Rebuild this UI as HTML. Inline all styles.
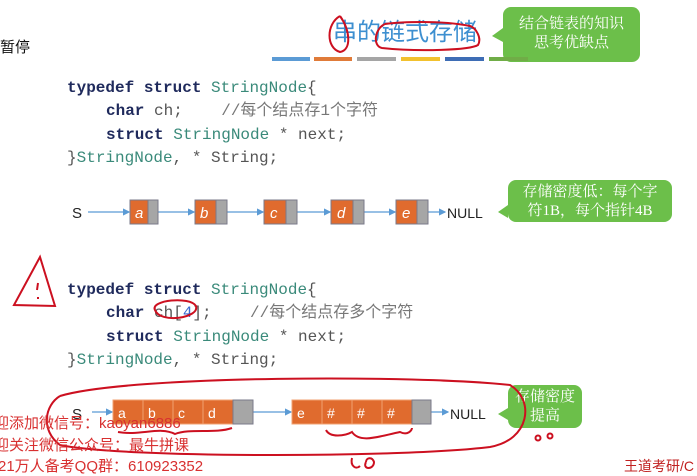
<!DOCTYPE html>
<html><head><meta charset="utf-8"><style>
body{margin:0;width:697px;height:472px;background:#fff;position:relative;overflow:hidden;font-family:"Liberation Sans","Noto Sans CJK SC",sans-serif}
.a{position:absolute;white-space:pre}
.code{font-family:"Liberation Mono","Noto Sans CJK SC",monospace;font-size:16px;line-height:20px;height:20px;color:#555}
.kw{color:#1f2a5c;font-weight:bold}
.ty{color:#3a8a7a}
.cm{color:#777}
.bub{position:absolute;background:#6cbf4a;color:#fff;border-radius:8px;text-align:center;font-family:"Liberation Serif","Noto Serif CJK SC",serif;font-size:15px;line-height:19px}
.wm{color:#d83030;font-size:15px;line-height:18px}
</style></head><body>
<div class="a" style="left:0;top:36px;font-size:15px;color:#111">暂停</div>
<div class="a" style="left:333px;top:18px;font-size:24px;line-height:30px;color:#3d8fd0">串的链式存储</div>
<div class="bub" style="left:503px;top:7px;width:137px;height:55px;padding-top:8px;box-sizing:border-box">结合链表的知识<br>思考优缺点</div>
<div class="bub" style="left:508px;top:180px;width:164px;height:42px;padding-top:3px;box-sizing:border-box">存储密度低：每个字<br>符1B，每个指针4B</div>
<div class="bub" style="left:508px;top:385px;width:74px;height:43px;padding-top:3px;box-sizing:border-box">存储密度<br>提高</div>
<div class="a code" style="left:67px;top:78px"><span class="kw">typedef struct</span> <span class="ty">StringNode</span>{</div>
<div class="a code" style="left:106px;top:101px"><span class="kw">char</span> ch;    <span class="cm">//每个结点存1个字符</span></div>
<div class="a code" style="left:106px;top:125px"><span class="kw">struct</span> <span class="ty">StringNode</span> * next;</div>
<div class="a code" style="left:67px;top:148px">}<span class="ty">StringNode</span>, * String;</div>
<div class="a code" style="left:67px;top:280px"><span class="kw">typedef struct</span> <span class="ty">StringNode</span>{</div>
<div class="a code" style="left:106px;top:303px"><span class="kw">char</span> ch[<span style="color:#3a6ad0">4</span>];    <span class="cm">//每个结点存多个字符</span></div>
<div class="a code" style="left:106px;top:327px"><span class="kw">struct</span> <span class="ty">StringNode</span> * next;</div>
<div class="a code" style="left:67px;top:350px">}<span class="ty">StringNode</span>, * String;</div>
<svg class="a" style="left:0;top:0" width="697" height="472" font-family="Liberation Sans,sans-serif">
<g stroke-width="4"><line x1="272" y1="59" x2="310" y2="59" stroke="#5b9bd5"/><line x1="314" y1="59" x2="352" y2="59" stroke="#e07b39"/><line x1="357" y1="59" x2="396" y2="59" stroke="#a5a5a5"/><line x1="401" y1="59" x2="440" y2="59" stroke="#f2c12e"/><line x1="445" y1="59" x2="484" y2="59" stroke="#3e6db5"/><line x1="489" y1="59" x2="528" y2="59" stroke="#70ad47"/></g>
<polygon points="503,28 492,36 503,42" fill="#6cbf4a"/>
<polygon points="508,205 498,212 508,218" fill="#6cbf4a"/>
<polygon points="508,408 498,414 508,420" fill="#6cbf4a"/>
<defs><marker id="ar" markerWidth="6" markerHeight="6" refX="5" refY="3" orient="auto"><path d="M0,0L6,3L0,6z" fill="#5b9bd5"/></marker></defs>
<g font-size="15" fill="#222"><text x="72" y="218">S</text><text x="447" y="218" font-size="14">NULL</text><text x="72" y="419">S</text><text x="450" y="419" font-size="14">NULL</text></g>
<g stroke="#5b9bd5" stroke-width="1.2" marker-end="url(#ar)">
<line x1="88" y1="212" x2="129" y2="212"/><line x1="158" y1="212" x2="194" y2="212"/><line x1="227" y1="212" x2="263" y2="212"/><line x1="297" y1="212" x2="330" y2="212"/><line x1="364" y1="212" x2="395" y2="212"/><line x1="428" y1="212" x2="445" y2="212"/>
<line x1="92" y1="412" x2="112" y2="412"/><line x1="253" y1="412" x2="291" y2="412"/><line x1="431" y1="412" x2="448" y2="412"/></g>
<g stroke="#7a7a8a" stroke-width="1">
<rect x="130" y="200" width="18" height="24" fill="#e06b2e"/><rect x="148" y="200" width="10" height="24" fill="#a6a6a6"/>
<rect x="195" y="200" width="21" height="24" fill="#e06b2e"/><rect x="216" y="200" width="11" height="24" fill="#a6a6a6"/>
<rect x="264" y="200" width="22" height="24" fill="#e06b2e"/><rect x="286" y="200" width="11" height="24" fill="#a6a6a6"/>
<rect x="331" y="200" width="22" height="24" fill="#e06b2e"/><rect x="353" y="200" width="11" height="24" fill="#a6a6a6"/>
<rect x="396" y="200" width="21" height="24" fill="#e06b2e"/><rect x="417" y="200" width="11" height="24" fill="#a6a6a6"/>
</g>
<g stroke="#f0a070" stroke-width="1"><rect x="113" y="400" width="120" height="24" fill="#e06b2e"/><rect x="292" y="400" width="120" height="24" fill="#e06b2e"/>
<line x1="143" y1="400" x2="143" y2="424"/><line x1="173" y1="400" x2="173" y2="424"/><line x1="203" y1="400" x2="203" y2="424"/>
<line x1="322" y1="400" x2="322" y2="424"/><line x1="352" y1="400" x2="352" y2="424"/><line x1="382" y1="400" x2="382" y2="424"/></g>
<g stroke="#7a7a8a"><rect x="233" y="400" width="20" height="24" fill="#a6a6a6"/><rect x="412" y="400" width="19" height="24" fill="#a6a6a6"/></g>
<g fill="#fff" font-size="15" font-style="italic"><text x="135" y="218">a</text><text x="200" y="218">b</text><text x="270" y="218">c</text><text x="337" y="218">d</text><text x="402" y="218">e</text></g>
<g fill="#fff" font-size="14"><text x="118" y="418">a</text><text x="148" y="418">b</text><text x="178" y="418">c</text><text x="208" y="418">d</text><text x="297" y="418">e</text><text x="327" y="418">#</text><text x="357" y="418">#</text><text x="387" y="418">#</text></g>
<g fill="none" stroke="#cc1020" stroke-width="2">
<path d="M340,16 C326,24 326,48 340,52 C352,50 350,30 340,16"/>
<path d="M385,24 C375,28 372,46 382,48 C420,52 470,50 478,45 C482,38 476,28 470,26 C440,20 400,22 385,24"/>
<path d="M40,257 L14,305 L55,306 Z"/><path d="M38,283 L37,290"/><path d="M38,297 L38,299"/>
<path d="M155,310 C150,300 190,296 196,306 C200,318 160,324 155,310"/>
<path d="M60,396 C130,375 420,375 510,385 C535,400 530,440 490,447 C400,458 120,458 60,445 C40,430 45,405 60,396"/>
<path d="M118,432 C140,436 160,426 175,434 C190,428 215,434 232,428"/>
<path d="M326,430 C330,438 345,436 352,432 C360,444 380,436 400,432 C408,436 412,430 412,428"/>
<path d="M352,458 C350,466 356,470 360,466 M366,462 C362,470 374,470 374,462 C372,456 366,458 366,462"/>
<circle cx="538" cy="438" r="2.5"/><circle cx="550" cy="436" r="2.5"/></g>
</svg>
<div class="a wm" style="left:-6px;top:415px">迎添加微信号：kaoyan6886</div>
<div class="a wm" style="left:-6px;top:437px">迎关注微信公众号：最牛拼课</div>
<div class="a wm" style="left:-2px;top:458px">21万人备考QQ群：610923352</div>
<div class="a" style="left:624px;top:456px;font-size:14px;color:#c02020">王道考研/C</div>
</body></html>
